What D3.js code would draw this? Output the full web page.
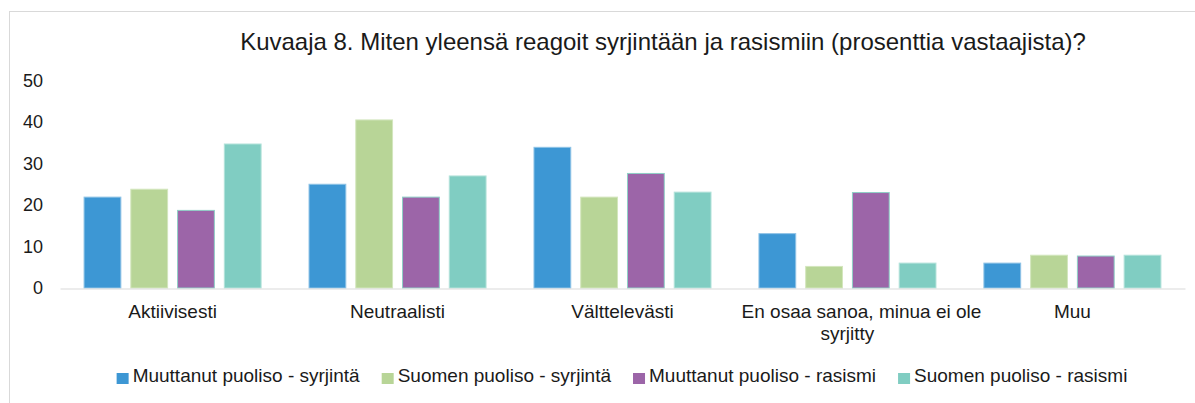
<!DOCTYPE html>
<html>
<head>
<meta charset="utf-8">
<script src="https://cdn.jsdelivr.net/npm/d3@7"></script>
<style>
  html, body { margin: 0; padding: 0; background: #fff; }
  svg { display: block; font-family: "Liberation Sans", Arial, Helvetica, sans-serif; }
</style>
</head>
<body>
<svg id="chart" width="1195" height="403"></svg>
<script>
const categories = ["Aktiivisesti", "Neutraalisti", "Välttelevästi", "En osaa sanoa, minua ei ole syrjitty", "Muu"];
const categoryLines = [["Aktiivisesti"], ["Neutraalisti"], ["Välttelevästi"], ["En osaa sanoa, minua ei ole", "syrjitty"], ["Muu"]];
const seriesNames = ["Muuttanut puoliso - syrjintä", "Suomen puoliso - syrjintä", "Muuttanut puoliso - rasismi", "Suomen puoliso - rasismi"];
const muuttanutSyrjinta = [21.9, 25.0, 33.9, 13.1, 6.0];
const suomenSyrjinta = [23.8, 40.5, 21.9, 5.2, 7.9];
const muuttanutRasismi = [18.7, 21.9, 27.6, 23.0, 7.7];
const suomenRasismi = [34.7, 27.0, 23.1, 6.0, 7.9];
const yTicks = [0, 10, 20, 30, 40, 50];
const titleText = "Kuvaaja 8. Miten yleensä reagoit syrjintään ja rasismiin (prosenttia vastaajista)?";

const seriesValues = [muuttanutSyrjinta, suomenSyrjinta, muuttanutRasismi, suomenRasismi];
const colors = ["#3d97d4", "#b8d597", "#9c65a8", "#80cdc2"];
const strokes = ["#8fc3e6", "#d3e6bd", "#8fcfc6", "#b3e2da"];

const svg = d3.select("#chart");

// frame
svg.append("rect").attr("x", 9.5).attr("y", 11.5).attr("width", 1200).attr("height", 420)
  .attr("fill", "none").attr("stroke", "#d9d9d9").attr("stroke-width", 1);

const x0 = d3.scaleBand().domain(categories).range([60, 1185]).paddingInner(0.213).paddingOuter(0.107);
const x1 = d3.scaleBand().domain(seriesNames).range([0, x0.bandwidth()]).paddingInner(0.213).paddingOuter(0);
const y = d3.scaleLinear().domain([0, 50]).range([288, 80.5]);

// title
svg.append("text").attr("x", 663).attr("y", 50).attr("text-anchor", "middle")
  .attr("font-size", 24).attr("fill", "#1a1a1a").text(titleText);

// y axis labels
const yAxis = d3.axisLeft(y).tickValues(yTicks).tickSize(0).tickPadding(0);
const gy = svg.append("g").attr("transform", "translate(43,0)").call(yAxis);
gy.select(".domain").remove();
gy.selectAll("text").attr("font-size", 18).attr("fill", "#1a1a1a")
  .attr("font-family", "\"Liberation Sans\", Arial, sans-serif");

// bars
const groups = svg.append("g").selectAll("g").data(categories).join("g")
  .attr("transform", d => `translate(${x0(d)},0)`);
groups.selectAll("rect").data((c, ci) => seriesNames.map((s, si) => ({ s, si, v: seriesValues[si][ci] })))
  .join("rect")
  .attr("x", d => x1(d.s))
  .attr("y", d => y(d.v))
  .attr("width", x1.bandwidth())
  .attr("height", d => y(0) - y(d.v))
  .attr("fill", d => colors[d.si])
  .attr("stroke", d => strokes[d.si])
  .attr("stroke-width", 1);

// x axis line
const xAxis = d3.axisBottom(x0).tickSize(0).tickFormat("");
const gx = svg.append("g").attr("transform", "translate(0,288.5)").call(xAxis);
gx.select(".domain").attr("stroke", "#d9d9d9").attr("stroke-width", 1.2);

// category labels (wrapped labels: first line sits slightly right, as in the original)
categories.forEach((c, i) => {
  const cx = x0(c) + x0.bandwidth() / 2;
  const lines = categoryLines[i];
  const t = svg.append("text").attr("text-anchor", "middle").attr("font-size", 19).attr("fill", "#1a1a1a")
    .attr("x", cx).attr("y", 318);
  lines.forEach((line, li) => {
    const shift = (lines.length > 1 && li === 0) ? 14 : 0;
    t.append("tspan").attr("x", cx + shift).attr("dy", li === 0 ? 0 : 22).text(line);
  });
});

// legend
const legend = svg.append("g");
let lx = 0;
seriesNames.forEach((s, i) => {
  const g = legend.append("g");
  g.append("rect").attr("x", lx).attr("y", 373).attr("width", 12).attr("height", 11).attr("fill", colors[i]);
  const t = g.append("text").attr("x", lx + 16).attr("y", 382).attr("font-size", 19).attr("fill", "#1a1a1a").text(s);
  const w = t.node().getComputedTextLength();
  lx += 16 + w + 22;
});
const totalW = lx - 22;
legend.attr("transform", `translate(${622 - totalW / 2},0)`);
</script>
</body>
</html>
